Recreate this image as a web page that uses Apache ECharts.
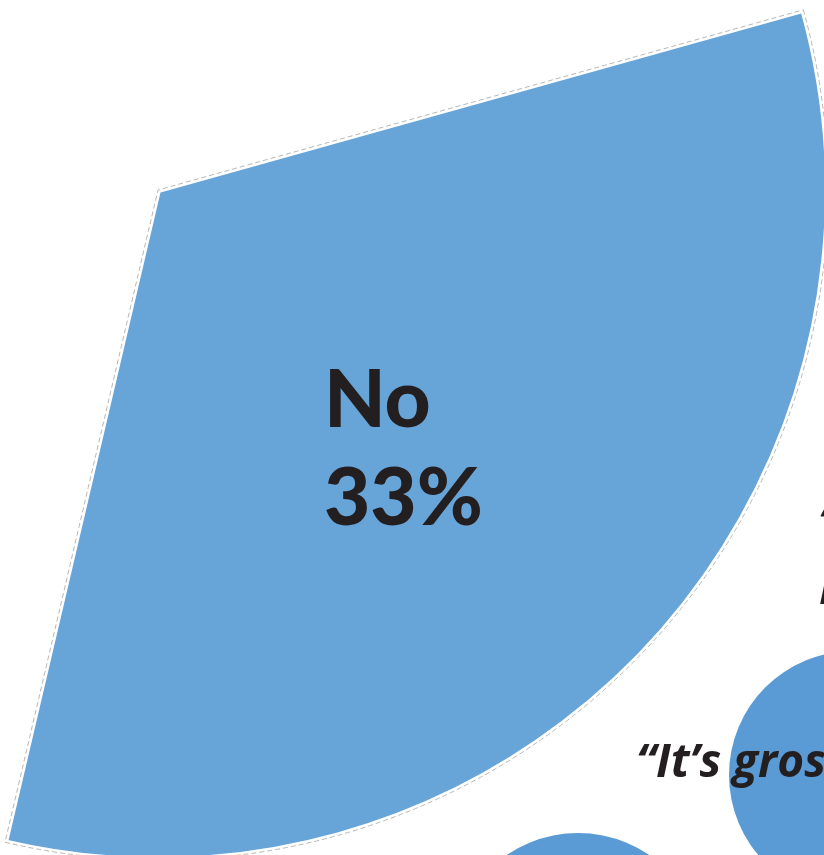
<!DOCTYPE html>
<html>
<head>
<meta charset="utf-8">
<title>No 33%</title>
<script src="https://cdn.jsdelivr.net/npm/echarts@6/dist/echarts.min.js"></script>
<style>
  html, body { margin: 0; padding: 0; background: #ffffff; }
  #chart { width: 824px; height: 855px; }
</style>
</head>
<body>
<div id="chart"></div>
<script>
// Survey answers (share of respondents)
const answers = ['No', 'Yes'];
const shares = [33, 67];

// Colours
const sliceBlue = '#67a5d9';
const bubbleBlue = '#5b9bd5';
const ink = '#231f20';

const pieCenter = [158, 190];
const pieRadius = 670;
const startAngle = 15.6;

const pieData = answers.map((name, i) => ({ name, value: shares[i] }));

const quoteFont = { fontFamily: 'Open Sans', fontWeight: 700, fontStyle: 'italic', fontSize: 46, fill: ink, textBaseline: 'top' };

const chart = echarts.init(document.getElementById('chart'), null, { renderer: 'canvas' });

chart.setOption({
  animation: false,
  backgroundColor: '#ffffff',
  series: [
    {
      // filled "No" wedge; the white stroke leaves a gap inside the dashed outline
      type: 'pie',
      center: pieCenter,
      radius: [0, pieRadius],
      startAngle: startAngle,
      clockwise: true,
      silent: true,
      z: 2,
      emphasis: { disabled: true },
      labelLine: { show: false },
      labelLayout: { dy: 26 },
      data: pieData.map((d, i) => ({
        name: d.name,
        value: d.value,
        itemStyle: i === 0
          ? { color: sliceBlue, borderColor: '#ffffff', borderWidth: 6, borderJoin: 'miter' }
          : { color: 'rgba(0,0,0,0)', borderWidth: 0 },
        label: i === 0
          ? {
              show: true,
              position: 'inside',
              formatter: '{a|{b}}\n{a|{d}%}',
              rich: {
                a: {
                  width: 156,
                  align: 'left',
                  fontFamily: 'Lato',
                  fontWeight: 900,
                  fontSize: 80,
                  lineHeight: 98,
                  color: ink
                }
              }
            }
          : { show: false }
      }))
    },
    {
      // dashed outline around the "No" wedge
      type: 'pie',
      center: pieCenter,
      radius: [0, pieRadius],
      startAngle: startAngle,
      clockwise: true,
      silent: true,
      z: 3,
      emphasis: { disabled: true },
      label: { show: false },
      labelLine: { show: false },
      data: pieData.map((d, i) => ({
        name: d.name,
        value: d.value,
        itemStyle: i === 0
          ? { color: 'rgba(0,0,0,0)', borderColor: '#b8b8b8', borderWidth: 1, borderType: [5, 3], borderJoin: 'miter' }
          : { color: 'rgba(0,0,0,0)', borderWidth: 0 }
      }))
    }
  ],
  graphic: [
    { type: 'circle', shape: { cx: 853, cy: 775, r: 124 }, style: { fill: bubbleBlue }, z: 1, silent: true },
    { type: 'circle', shape: { cx: 578, cy: 960, r: 127 }, style: { fill: bubbleBlue }, z: 1, silent: true },
    { type: 'text', x: 636, y: 741, z: 10, silent: true, style: Object.assign({ text: '\u201CIt\u2019s gross' }, quoteFont) },
    { type: 'text', x: 818, y: 502, z: 10, silent: true, style: Object.assign({ text: '\u201CA' }, quoteFont) },
    { type: 'text', x: 819, y: 568, z: 10, silent: true, style: Object.assign({ text: 'It' }, quoteFont) }
  ]
});
</script>
</body>
</html>
